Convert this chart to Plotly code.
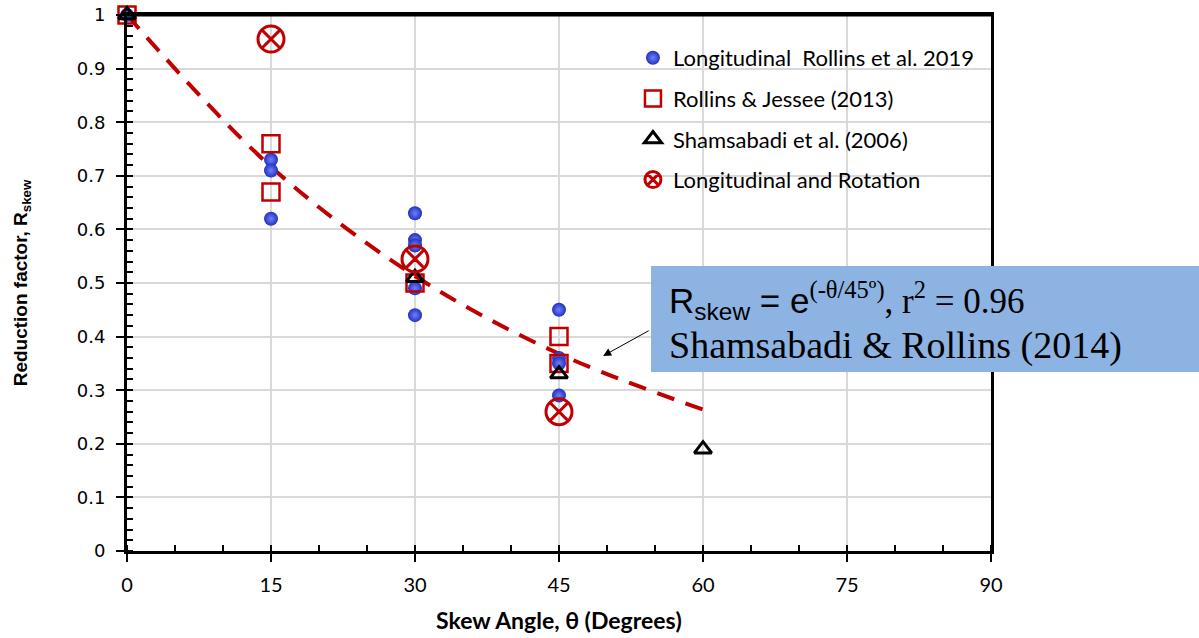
import plotly.graph_objects as go

# Data
long_x = [0, 15, 15, 15, 30, 30, 30, 30, 30, 45, 45, 45, 45]
long_y = [1.0, 0.73, 0.71, 0.62, 0.63, 0.58, 0.57, 0.49, 0.44, 0.45, 0.36, 0.35, 0.29]
rj_x = [0, 15, 15, 30, 45, 45]
rj_y = [1.0, 0.76, 0.67, 0.50, 0.40, 0.35]
sh_x = [0, 30, 45, 60]
sh_y = [1.0, 0.51, 0.33, 0.19]
lr_x = [15, 30, 45]
lr_y = [0.955, 0.545, 0.26]
fit_x = [0, 15, 30, 45, 60]
fit_y = [1.0, 0.717, 0.513, 0.368, 0.264]
x_ticks = [0, 15, 30, 45, 60, 75, 90]
y_ticks = [0, 0.1, 0.2, 0.3, 0.4, 0.5, 0.6, 0.7, 0.8, 0.9, 1]
y_labels = ["0", "0.1", "0.2", "0.3", "0.4", "0.5", "0.6", "0.7", "0.8", "0.9", "1"]

RED = "#c00000"
fig = go.Figure()
fig.add_trace(go.Scatter(x=fit_x, y=fit_y, mode="lines",
                         line=dict(color=RED, width=4, dash="18px,12px", shape="spline"),
                         showlegend=False, hoverinfo="skip"))
fig.add_trace(go.Scatter(x=long_x, y=long_y, mode="markers", name="Longitudinal  Rollins et al. 2019",
                         legendgroup="a", cliponaxis=False,
                         marker=dict(symbol="circle", size=14, color="#2233bb",
                                     gradient=dict(type="radial", color="#6f7fff"), line=dict(width=0))))
fig.add_trace(go.Scatter(x=rj_x, y=rj_y, mode="markers", name="Rollins &amp; Jessee (2013)",
                         legendgroup="b", cliponaxis=False,
                         marker=dict(symbol="square-open", size=17, color=RED, line=dict(width=2.5, color=RED))))
fig.add_trace(go.Scatter(x=sh_x, y=sh_y, mode="markers", name="Shamsabadi et al. (2006)",
                         legendgroup="c", cliponaxis=False,
                         marker=dict(symbol="triangle-up-open", size=15, color="black", line=dict(width=3, color="black"))))
fig.add_trace(go.Scatter(x=lr_x, y=lr_y, mode="markers", name="Longitudinal and Rotation",
                         legendgroup="d", cliponaxis=False,
                         marker=dict(symbol="circle-x-open", size=26, color=RED, line=dict(width=3, color=RED))))

fig.update_layout(
    width=1199, height=638,
    margin=dict(l=127, r=208, t=15, b=87),
    plot_bgcolor="white", paper_bgcolor="white",
    font=dict(family="Lato, Open Sans, sans-serif", size=17, color="black"),
    legend=dict(x=0.5856, y=0.959, xanchor="left", yanchor="top", bgcolor="rgba(0,0,0,0)",
                font=dict(size=22, family="Lato, sans-serif"), tracegroupgap=9, itemwidth=30),
    xaxis=dict(range=[0, 90], tickvals=x_ticks, ticks="outside", ticklen=8, tickwidth=2, tickcolor="black",
               showline=True, linecolor="black", linewidth=3, mirror=True, automargin=False,
               showgrid=True, gridcolor="#d9d9d9", gridwidth=1.5, zeroline=False,
               minor=dict(dtick=5, ticks="inside", ticklen=6, tickwidth=1.5, tickcolor="black", showgrid=False),
               title=dict(text="<b>Skew Angle, θ (Degrees)</b>", font=dict(size=23, family="Lato, sans-serif"),
                          standoff=18),
               tickfont=dict(size=20, family="Lato, sans-serif"), ticklabelstandoff=6,
               ticklabeloverflow="allow"),
    yaxis=dict(range=[0, 1], tickvals=y_ticks, ticktext=y_labels, ticks="outside", ticklen=8, tickwidth=2,
               tickcolor="black", showline=True, linecolor="black", linewidth=3, mirror=True, automargin=False,
               showgrid=True, gridcolor="#d9d9d9", gridwidth=1.5, zeroline=False,
               minor=dict(dtick=0.02, ticks="inside", ticklen=6, tickwidth=1.5, tickcolor="black", showgrid=False),
               title=dict(text="<b>Reduction factor, R<sub>skew</sub></b>",
                          font=dict(size=19, family="Liberation Sans, Arial, sans-serif"), standoff=45),
               tickfont=dict(size=18, family="DejaVu Sans, sans-serif"), ticklabelstandoff=7,
               ticklabeloverflow="allow"),
)

# top edge of the plot frame
fig.add_shape(type="line", xref="paper", yref="paper", x0=0, x1=1, y0=1, y1=1,
              line=dict(color="black", width=3), layer="above")

fig.add_annotation(x=49.6, y=0.364, xref="x", yref="y", ax=47, ay=-26, showarrow=True,
                   arrowhead=2, arrowsize=1.6, arrowwidth=1, arrowcolor="black", text="")

# Equation box
fig.add_shape(type="rect", xref="paper", yref="paper", x0=0.6065, x1=1.25, y0=0.334, y1=0.5317,
              fillcolor="#8db3e2", line=dict(width=0), layer="above")
fig.add_annotation(
    x=0.625, y=0.468, xref="paper", yref="paper", xanchor="left", yanchor="middle",
    showarrow=False, align="left",
    font=dict(family="Liberation Serif, serif", size=35, color="black"),
    text=('<span style="font-family:Liberation Sans, Arial, sans-serif">R<sub>skew</sub> = e</span>'
          '<sup>(-θ/45º)</sup>, r<sup>2</sup> = 0.96'),
)
fig.add_annotation(
    x=0.625, y=0.384, xref="paper", yref="paper", xanchor="left", yanchor="middle",
    showarrow=False, align="left",
    font=dict(family="Liberation Serif, serif", size=38, color="black"),
    text="Shamsabadi &amp; Rollins (2014)",
)

fig.write_html("out.html", config={"displayModeBar": False},
               post_script="document.body.style.margin='0';document.body.style.overflow='hidden';")
